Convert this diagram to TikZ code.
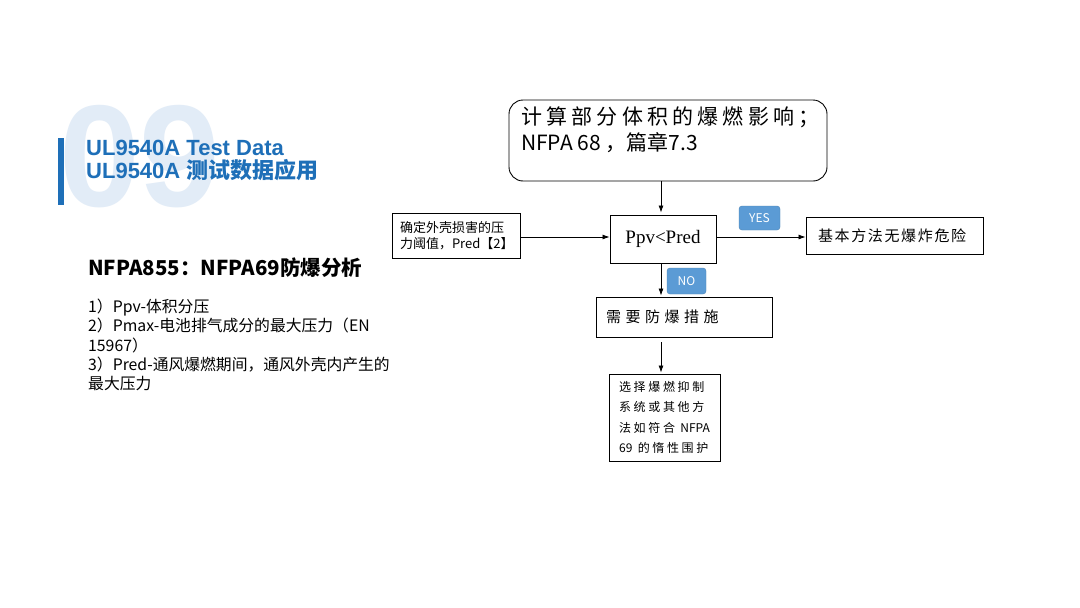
\documentclass[tikz,border=0pt]{standalone}
\usepackage{fontspec}
\setmainfont{Noto Sans CJK SC}
\newfontfamily\arialfont{Liberation Sans}
\newfontfamily\ppvfont{Liberation Serif}
\usetikzlibrary{arrows.meta}
\definecolor{titleblue}{HTML}{1E6FB8}
\definecolor{numblue}{HTML}{E2ECF7}
\definecolor{badgeblue}{HTML}{5B9BD5}
\newcommand{\plainlat}[1]{{\addfontfeature{LetterSpace=0}#1}}
\begin{document}
\begin{tikzpicture}[x=1pt,y=-1pt,
  flowbox/.style={draw,line width=0.9pt,inner sep=0pt},
  flowarrow/.style={-{Latex[length=7pt,width=5pt]},line width=0.8pt},
  badge/.style={fill=badgeblue,draw=badgeblue!85!black,rounded corners=3pt,text=white,font=\fontsize{12}{12}\selectfont,inner sep=0pt}]
\useasboundingbox[fill=white] (0,0) rectangle (1080,608);

% title block
\node[anchor=base west,inner sep=0pt,text=numblue,font=\arialfont\bfseries\fontsize{145}{145}\selectfont] (bignum) at (59,206) {09};
\fill[titleblue] (58,138) rectangle (64,205);
\node[anchor=base west,inner sep=0pt,text=titleblue,font=\arialfont\bfseries\fontsize{22}{22}\selectfont] (title1) at (86,155) {UL9540A Test Data};
\node[anchor=base west,inner sep=0pt,text=titleblue,font=\bfseries\fontsize{22}{22}\selectfont] (title2) at (86,178) {{\arialfont UL9540A }测试数据应用};

% left text
\node[anchor=base west,inner sep=0pt,font=\bfseries\fontsize{20.5}{20.5}\selectfont] (heading) at (88,275) {NFPA855：NFPA69防爆分析};
\node[anchor=north west,inner sep=0pt,align=left,font=\fontsize{15.8}{19.2}\selectfont] (terms) at (88,299)
{1）Ppv-体积分压\\2）Pmax-电池排气成分的最大压力（EN\\15967）\\3）Pred-通风爆燃期间，通风外壳内产生的\\最大压力};

% flow chart
\coordinate (rowy) at (0,237);
\node[flowbox,rounded corners=14pt,minimum width=318pt,minimum height=81pt] (calc) at (668,140.5) {};
\node[anchor=north west,inner sep=0pt,align=left,font=\fontsize{21}{26}\selectfont] (calctext) at (521,107)
{{\addfontfeature{LetterSpace=20}计算部分体积的爆燃影响；}\\NFPA 68 ，篇章7.3};

\node[flowbox,minimum width=106pt,minimum height=48pt,font=\ppvfont\fontsize{19}{19}\selectfont] (ppv) at (663,239) {Ppv<Pred};
\node[flowbox,minimum width=128pt,minimum height=45pt,inner xsep=8pt,text width=112pt,align=left,font=\fontsize{13}{16}\selectfont] (thresh) at (456,235.5) {确定外壳损害的压\\力阈值，Pred【2】};
\node[flowbox,minimum width=177pt,minimum height=37pt,inner xsep=12pt,text width=153pt,align=left,font=\fontsize{15}{15}\selectfont\addfontfeature{LetterSpace=11}] (basic) at (894.5,235.5) {基本方法无爆炸危险};
\node[flowbox,minimum width=176pt,minimum height=40pt,inner xsep=10pt,text width=156pt,align=left,font=\fontsize{15}{15}\selectfont\addfontfeature{LetterSpace=30}] (need) at (684,317) {需要防爆措施\\[4pt]};
\node[flowbox,minimum width=111pt,minimum height=87pt,align=left,font=\fontsize{12}{20.3}\selectfont\addfontfeature{LetterSpace=22}] (choose) at (664.5,417.5)
{选择爆燃抑制\\系统或其他方\\法如符合 \plainlat{NFPA}\\\plainlat{69} 的惰性围护};

\node[badge,minimum width=41pt,minimum height=24pt] (yes) at (759.5,218) {YES};
\node[badge,minimum width=39pt,minimum height=26pt] (no) at (686.5,281) {NO};

\draw[flowarrow,shorten >=2pt] (calc.south -| 661,0) -- (ppv.north -| 661,0);
\draw[flowarrow] (thresh.east |- rowy) -- (ppv.west |- rowy);
\draw[flowarrow] (ppv.east |- rowy) -- (basic.west |- rowy);
\draw[flowarrow,shorten >=1pt] (ppv.south -| 661,0) -- (need.north -| 661,0);
\draw[flowarrow,shorten <=5pt,shorten >=1pt] (need.south -| 661,0) -- (choose.north -| 661,0);
\end{tikzpicture}
\end{document}
